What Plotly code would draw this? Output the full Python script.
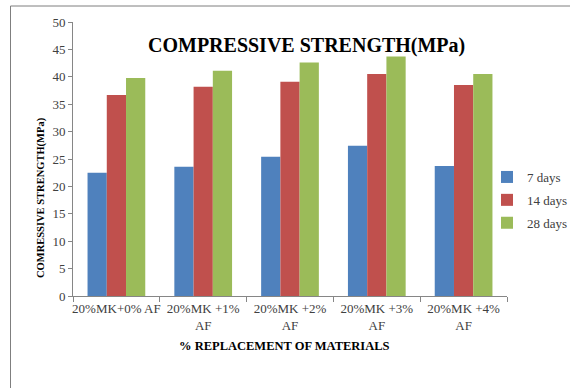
import plotly.graph_objects as go

# Mix designs and compressive strength results (MPa)
categories = ["20%MK+0% AF", "20%MK +1%<br>AF", "20%MK +2%<br>AF", "20%MK +3%<br>AF", "20%MK +4%<br>AF"]
days_7 = [22.5, 23.6, 25.4, 27.4, 23.7]
days_14 = [36.7, 38.2, 39.1, 40.5, 38.5]
days_28 = [39.8, 41.1, 42.6, 43.7, 40.5]
series_names = ["7 days", "14 days", "28 days"]
series_colors = ["#4F81BD", "#C0504D", "#9BBB59"]

W, H = 570, 388
L, R, T, B = 73, 63, 22, 92
pw, ph = W - L - R, H - T - B


def px_x(px):
    return (px - L) / pw


def px_y(py):
    return (H - B - py) / ph


serif = "Liberation Serif, Times New Roman, serif"

fig = go.Figure()
for i, (name, vals, col) in enumerate(zip(series_names, [days_7, days_14, days_28], series_colors)):
    fig.add_trace(go.Bar(
        x=categories, y=vals, name=name, marker_color=col,
        marker_line_width=0, legendgroup=name,
    ))

fig.update_layout(
    width=W, height=H,
    margin=dict(l=L, r=R, t=T, b=B, autoexpand=False),
    paper_bgcolor="white", plot_bgcolor="white",
    barmode="group", bargap=0.335, bargroupgap=0,
    font=dict(family=serif, size=12, color="#404040"),
    showlegend=True,
    legend=dict(
        x=px_x(487), y=px_y(162), xanchor="left", yanchor="top",
        font=dict(family=serif, size=13, color="#404040"),
        tracegroupgap=3, bgcolor="rgba(0,0,0,0)",
        itemwidth=30,
    ),
    xaxis=dict(
        showgrid=False, showline=True, linecolor="#868686", linewidth=1,
        ticks="outside", tickson="boundaries", ticklen=5, tickcolor="#868686",
        tickangle=0, automargin=False,
        tickfont=dict(family=serif, size=13, color="#404040"),
    ),
    yaxis=dict(
        range=[0, 50], dtick=5, showgrid=False, zeroline=False,
        showline=True, linecolor="#868686", linewidth=1,
        ticks="outside", ticklen=4, tickcolor="#868686", automargin=False,
        tickfont=dict(family=serif, size=13, color="#404040"),
    ),
    annotations=[
        dict(text="<b>COMPRESSIVE STRENGTH(MPa)</b>", x=px_x(306), y=px_y(32),
             xref="paper", yref="paper", showarrow=False,
             font=dict(family=serif, size=20, color="black")),
        dict(text="<b>COMRESSIVE STRENGTH(MPa)</b>", x=px_x(33), y=px_y(198),
             xref="paper", yref="paper", showarrow=False, textangle=-90,
             font=dict(family=serif, size=10.5, color="black")),
        dict(text="<b>% REPLACEMENT OF MATERIALS</b>", x=px_x(284), y=px_y(355),
             xref="paper", yref="paper", showarrow=False,
             font=dict(family=serif, size=12.5, color="black")),
    ],
    shapes=[
        dict(type="line", xref="paper", yref="paper",
             x0=px_x(10.5), x1=px_x(10.5), y0=px_y(6), y1=px_y(H),
             line=dict(color="#7f7f7f", width=1)),
        dict(type="line", xref="paper", yref="paper",
             x0=px_x(10.5), x1=px_x(W), y0=px_y(6), y1=px_y(6),
             line=dict(color="#7f7f7f", width=1)),
    ],
)

fig.write_html("out.html")
